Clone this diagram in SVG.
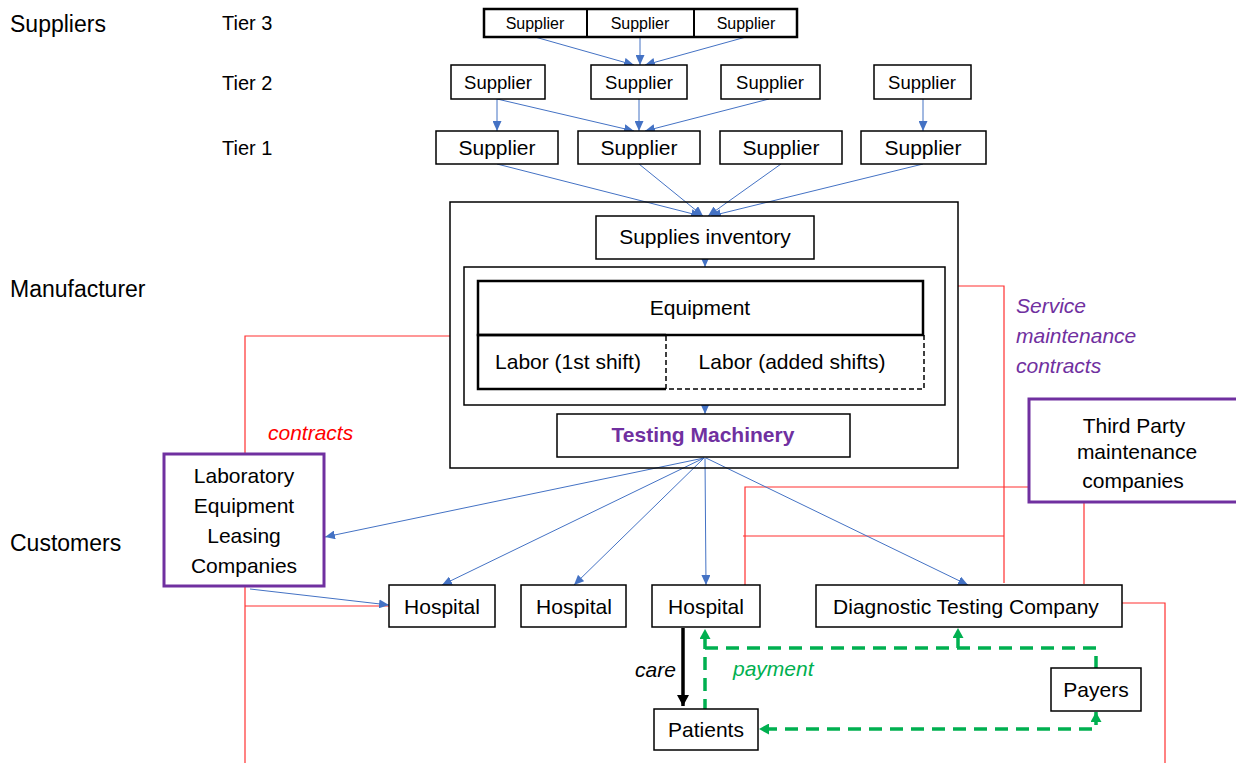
<svg xmlns="http://www.w3.org/2000/svg" width="1236" height="763" viewBox="0 0 1236 763">
  <defs>
    <style>
      text { font-family: "Liberation Sans", Arial, sans-serif; fill: #000; }
      .lbl { font-size: 23px; }
      .tier { font-size: 20px; }
      .t { font-size: 21px; text-anchor: middle; }
      .s2 { font-size: 18.5px; text-anchor: middle; }
      .s3 { font-size: 16px; text-anchor: middle; }
      .box { fill: #fff; stroke: #000; stroke-width: 1.5; }
      .thick { fill: #fff; stroke: #000; stroke-width: 2.5; }
      .pbox { fill: #fff; stroke: #7030A0; stroke-width: 3; }
      .flow { fill: none; stroke: #4472C4; stroke-width: 1; marker-end: url(#ab); }
      .red { fill: none; stroke: #FF3030; stroke-width: 1.2; }
      .pay { fill: none; stroke: #00B050; stroke-width: 3.5; stroke-dasharray: 13 8; }
      .it { font-style: italic; font-size: 21px; }
    </style>
    <marker id="ab" markerUnits="userSpaceOnUse" markerWidth="10" markerHeight="9" refX="10" refY="4.5" orient="auto">
      <path d="M0,0 L10,4.5 L0,9 z" fill="#4472C4"/>
    </marker>
    <marker id="ag" markerUnits="userSpaceOnUse" markerWidth="11" markerHeight="11" refX="10" refY="5.5" orient="auto-start-reverse">
      <path d="M0,0 L10,5.5 L0,11 z" fill="#00B050"/>
    </marker>
    <marker id="ak" markerUnits="userSpaceOnUse" markerWidth="12" markerHeight="12" refX="11" refY="6" orient="auto">
      <path d="M0,0 L11,6 L0,12 z" fill="#000"/>
    </marker>
  </defs>

  <rect width="1236" height="763" fill="#fff"/>

  <!-- row labels -->
  <g id="labels">
    <text class="lbl" x="10" y="32">Suppliers</text>
    <text class="lbl" x="10" y="297">Manufacturer</text>
    <text class="lbl" x="10" y="551">Customers</text>
    <text class="tier" x="222" y="30">Tier 3</text>
    <text class="tier" x="222" y="90">Tier 2</text>
    <text class="tier" x="222" y="155">Tier 1</text>
  </g>

  <!-- red contract / service lines (drawn beneath boxes) -->
  <g id="contract-lines">
    <polyline class="red" points="450,336 245,336 245,454"/>
    <line class="red" x1="245" y1="586" x2="245" y2="763"/>
    <line class="red" x1="245" y1="606" x2="389" y2="606"/>
    <polyline class="red" points="958,286 1004,286 1004,583"/>
    <line class="red" x1="743" y1="536" x2="1004" y2="536"/>
    <polyline class="red" points="745,585 745,487 1029,487"/>
    <line class="red" x1="1084" y1="502" x2="1084" y2="584"/>
    <polyline class="red" points="1122,603 1165,603 1165,763"/>
  </g>

  <!-- supply flow connectors -->
  <g id="connectors">
    <line class="flow" x1="535" y1="37" x2="634" y2="65"/>
    <line class="flow" x1="640" y1="37" x2="640" y2="65"/>
    <line class="flow" x1="746" y1="37" x2="645" y2="65"/>

    <line class="flow" x1="497" y1="99" x2="497" y2="131"/>
    <line class="flow" x1="497" y1="99" x2="634" y2="131"/>
    <line class="flow" x1="639" y1="99" x2="639" y2="131"/>
    <line class="flow" x1="769" y1="99" x2="645" y2="131"/>
    <line class="flow" x1="923" y1="99" x2="923" y2="131"/>

    <line class="flow" x1="497" y1="164" x2="701" y2="216"/>
    <line class="flow" x1="639" y1="164" x2="703" y2="216"/>
    <line class="flow" x1="781" y1="164" x2="708" y2="216"/>
    <line class="flow" x1="923" y1="164" x2="711" y2="216"/>

    <line class="flow" x1="705" y1="259" x2="705" y2="267"/>
    <line class="flow" x1="705" y1="405" x2="705" y2="414"/>

    <line class="flow" x1="704" y1="458" x2="325" y2="537"/>
    <line class="flow" x1="704" y1="458" x2="442" y2="585"/>
    <line class="flow" x1="704" y1="458" x2="574" y2="585"/>
    <line class="flow" x1="705" y1="458" x2="706" y2="585"/>
    <line class="flow" x1="706" y1="458" x2="968" y2="585"/>
    <line class="flow" x1="250" y1="589" x2="389" y2="605"/>

    <!-- care -->
    <line x1="683" y1="628" x2="683" y2="706" stroke="#000" stroke-width="3.5" marker-end="url(#ak)"/>

    <!-- payment flows -->
    <line class="pay" x1="705" y1="712" x2="705" y2="629" marker-end="url(#ag)"/>
    <polyline class="pay" points="705,648 1096,648 1096,668"/>
    <line class="pay" x1="958" y1="648" x2="958" y2="628" stroke-dasharray="none" marker-end="url(#ag)"/>
    <polyline class="pay" points="1096,712 1096,729 759,729" marker-start="url(#ag)" marker-end="url(#ag)"/>
  </g>

  <!-- supplier tiers -->
  <g id="tier3">
    <rect class="thick" x="484" y="9" width="313" height="28" stroke-width="2"/>
    <line x1="587" y1="9" x2="587" y2="37" stroke="#000" stroke-width="2"/>
    <line x1="694" y1="9" x2="694" y2="37" stroke="#000" stroke-width="2"/>
    <text class="s3" x="535" y="29">Supplier</text>
    <text class="s3" x="640" y="29">Supplier</text>
    <text class="s3" x="746" y="29">Supplier</text>
  </g>
  <g id="tier2-a"><rect class="box" x="451" y="65" width="94" height="34"/><text class="s2" x="498" y="89">Supplier</text></g>
  <g id="tier2-b"><rect class="box" x="591" y="65" width="96" height="34"/><text class="s2" x="639" y="89">Supplier</text></g>
  <g id="tier2-c"><rect class="box" x="721" y="65" width="99" height="34"/><text class="s2" x="770" y="89">Supplier</text></g>
  <g id="tier2-d"><rect class="box" x="874" y="65" width="97" height="34"/><text class="s2" x="922" y="89">Supplier</text></g>

  <g id="tier1-a"><rect class="box" x="436" y="131" width="122" height="33"/><text class="t" x="497" y="155">Supplier</text></g>
  <g id="tier1-b"><rect class="box" x="578" y="131" width="122" height="33"/><text class="t" x="639" y="155">Supplier</text></g>
  <g id="tier1-c"><rect class="box" x="720" y="131" width="122" height="33"/><text class="t" x="781" y="155">Supplier</text></g>
  <g id="tier1-d"><rect class="box" x="861" y="131" width="125" height="33"/><text class="t" x="923" y="155">Supplier</text></g>

  <!-- manufacturer -->
  <g id="manufacturer">
    <rect x="450" y="202" width="508" height="266" fill="none" stroke="#000" stroke-width="1.5"/>
  </g>
  <g id="supplies-inventory">
    <rect class="box" x="596" y="216" width="218" height="43"/>
    <text class="t" x="705" y="244">Supplies inventory</text>
  </g>
  <g id="production">
    <rect x="464" y="267" width="481" height="138" fill="#fff" stroke="#000" stroke-width="1.5"/>
    <rect x="478" y="281" width="445" height="54" fill="#fff" stroke="#000" stroke-width="2.5"/>
    <text class="t" x="700" y="315" font-size="22">Equipment</text>
    <polyline points="666,335 478,335 478,389 666,389" fill="none" stroke="#000" stroke-width="2.5"/>
    <polyline points="666,336 666,389 924,389 924,335" fill="none" stroke="#000" stroke-width="1.5" stroke-dasharray="5 3"/>
    <text class="t" x="568" y="369">Labor (1st shift)</text>
    <text class="t" x="792" y="369">Labor (added shifts)</text>
  </g>
  <g id="testing-machinery">
    <rect class="box" x="557" y="414" width="293" height="43"/>
    <text class="t" x="703" y="442" font-weight="bold" style="fill:#7030A0">Testing Machinery</text>
  </g>

  <!-- customers -->
  <g id="leasing">
    <rect class="pbox" x="164" y="454" width="160" height="132"/>
    <text class="t" x="244" y="483" font-size="22">Laboratory</text>
    <text class="t" x="244" y="513" font-size="22">Equipment</text>
    <text class="t" x="244" y="543" font-size="22">Leasing</text>
    <text class="t" x="244" y="573" font-size="22">Companies</text>
  </g>
  <g id="third-party">
    <rect class="pbox" x="1029" y="399" width="215" height="103"/>
    <text class="t" x="1134" y="433">Third Party</text>
    <text class="t" x="1137" y="459">maintenance</text>
    <text class="t" x="1133" y="488">companies</text>
  </g>
  <g id="hospital-1"><rect class="box" x="389" y="585" width="106" height="42"/><text class="t" x="442" y="614">Hospital</text></g>
  <g id="hospital-2"><rect class="box" x="521" y="585" width="105" height="42"/><text class="t" x="574" y="614">Hospital</text></g>
  <g id="hospital-3"><rect class="box" x="652" y="585" width="108" height="42"/><text class="t" x="706" y="614">Hospital</text></g>
  <g id="diagnostic"><rect class="box" x="816" y="585" width="306" height="42"/><text class="t" x="966" y="614">Diagnostic Testing Company</text></g>
  <g id="patients"><rect class="box" x="654" y="709" width="104" height="41"/><text class="t" x="706" y="737">Patients</text></g>
  <g id="payers"><rect class="box" x="1051" y="668" width="90" height="43"/><text class="t" x="1096" y="697">Payers</text></g>

  <!-- connector labels -->
  <g id="edge-labels">
    <text class="it" x="268" y="440" style="fill:#FF0000">contracts</text>
    <text class="it" x="1016" y="313" style="fill:#7030A0">Service</text>
    <text class="it" x="1016" y="343" style="fill:#7030A0">maintenance</text>
    <text class="it" x="1016" y="373" style="fill:#7030A0">contracts</text>
    <text class="it" x="635" y="677">care</text>
    <text class="it" x="733" y="676" style="fill:#00B050">payment</text>
  </g>
</svg>
